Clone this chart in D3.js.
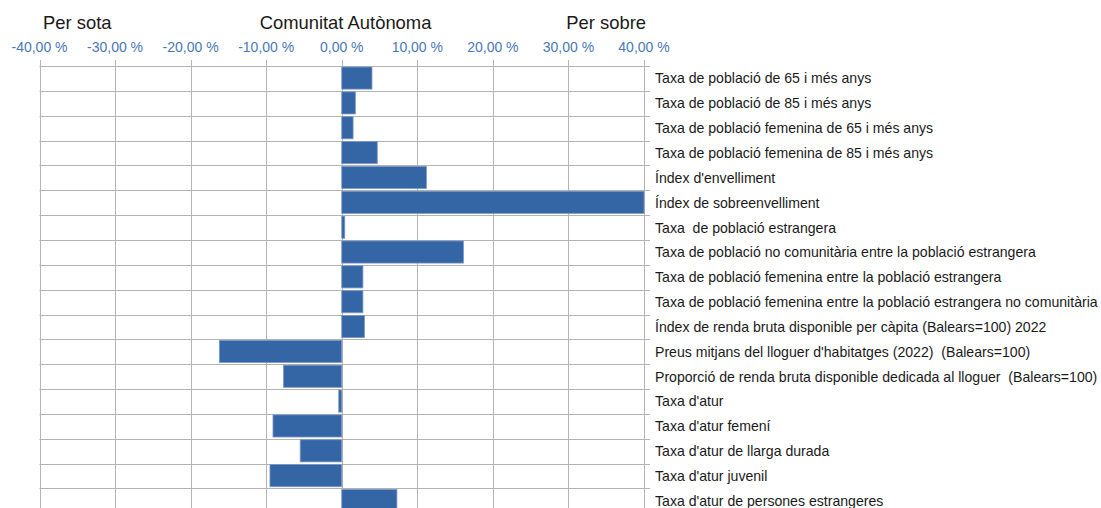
<!DOCTYPE html>
<html>
<head>
<meta charset="utf-8">
<script src="https://cdn.jsdelivr.net/npm/d3@7"></script>
<style>
  body { margin: 0; background: #fff; }
  svg { display: block; font-family: "Liberation Sans", Arial, sans-serif; }
</style>
</head>
<body>
<div id="general"></div>
<script>
const w = 1101, h = 508;

const categories = [
  "Taxa de població de 65 i més anys",
  "Taxa de població de 85 i més anys",
  "Taxa de població femenina de 65 i més anys",
  "Taxa de població femenina de 85 i més anys",
  "Índex d'envelliment",
  "Índex de sobreenvelliment",
  "Taxa  de població estrangera",
  "Taxa de població no comunitària entre la població estrangera",
  "Taxa de població femenina entre la població estrangera",
  "Taxa de població femenina entre la població estrangera no comunitària",
  "Índex de renda bruta disponible per càpita (Balears=100) 2022",
  "Preus mitjans del lloguer d'habitatges (2022)  (Balears=100)",
  "Proporció de renda bruta disponible dedicada al lloguer  (Balears=100)",
  "Taxa d'atur",
  "Taxa d'atur femení",
  "Taxa d'atur de llarga durada",
  "Taxa d'atur juvenil",
  "Taxa d'atur de persones estrangeres"
];

// diferència respecte de la Comunitat Autònoma (%)
const values = [4.0, 1.8, 1.5, 4.7, 11.2, 40.0, 0.4, 16.1, 2.8, 2.8, 3.0,
  -16.2, -7.7, -0.4, -9.1, -5.5, -9.5, 7.3];

const ticks = [-40, -30, -20, -10, 0, 10, 20, 30, 40];
const headers = [
  { text: "Per sota", at: -35 },
  { text: "Comunitat Autònoma", at: 0.5 },
  { text: "Per sobre", at: 35 }
];

const locale = d3.formatLocale({ decimal: ",", thousands: ".", grouping: [3], currency: ["", " €"], minus: "-" });
const fmt = v => locale.format(".2f")(v) + " %";

const svg = d3.select("#general").append("svg")
  .attr("width", w).attr("height", h);

const plot = { l: 39.5, r: 644, t: 66 };
const x = d3.scaleLinear().domain([-40, 40]).range([plot.l, plot.r]);
const rowH = 24.85;
const y = d3.scaleBand().domain(categories)
  .range([plot.t, plot.t + rowH * categories.length]).padding(0);
const bottom = plot.t + rowH * categories.length;

const gridCol = "#b3b3b3";

// vertical grid + ticks above
svg.append("g").selectAll("line").data(ticks).join("line")
  .attr("x1", d => Math.round(x(d)) + 0.5).attr("x2", d => Math.round(x(d)) + 0.5)
  .attr("y1", plot.t - 6).attr("y2", bottom)
  .attr("stroke", gridCol).attr("stroke-width", 1);

// horizontal grid + ticks on the right
const rowEdges = d3.range(categories.length + 1);
svg.append("g").selectAll("line").data(rowEdges).join("line")
  .attr("x1", plot.l).attr("x2", plot.r + 6)
  .attr("y1", d => Math.round(plot.t + d * rowH) + 0.5)
  .attr("y2", d => Math.round(plot.t + d * rowH) + 0.5)
  .attr("stroke", gridCol).attr("stroke-width", 1);

// bars
const clamp = d => Math.max(-40, Math.min(40, d));
svg.append("g").selectAll("rect").data(values).join("rect")
  .attr("x", d => Math.min(x(0), x(clamp(d))))
  .attr("width", d => Math.abs(x(clamp(d)) - x(0)))
  .attr("y", (d, i) => y(categories[i]) + 1)
  .attr("height", y.bandwidth() * 0.89)
  .attr("fill", "#3465a4")
  .attr("stroke", "#7b97c6").attr("stroke-width", 0.8);

// top tick labels
svg.append("g").selectAll("text").data(ticks).join("text")
  .text(d => fmt(d))
  .attr("x", d => x(d)).attr("y", 52)
  .attr("text-anchor", "middle")
  .attr("font-size", 14)
  .attr("fill", "#4a78b8");

// headers
svg.append("g").selectAll("text").data(headers).join("text")
  .text(d => d.text)
  .attr("x", d => x(d.at)).attr("y", 29)
  .attr("text-anchor", "middle")
  .attr("font-size", 18.4)
  .attr("fill", "#1a1a1a");

// category labels
svg.append("g").selectAll("text").data(categories).join("text")
  .text(d => d)
  .attr("x", 655)
  .attr("y", d => y(d) + y.bandwidth() / 2 + 5)
  .attr("font-size", 14.1)
  .attr("fill", "#1a1a1a")
  .style("white-space", "pre");
</script>
</body>
</html>
